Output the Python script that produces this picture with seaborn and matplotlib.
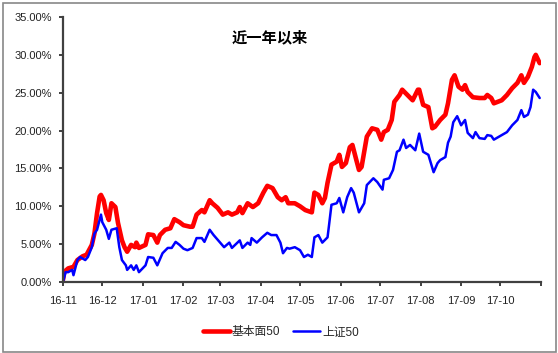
import pandas as pd
import matplotlib
matplotlib.use("Agg")
import matplotlib.pyplot as plt
import seaborn as sns

# 基本面50 (%)
red_dates = ["2016-11-01", "2016-11-02", "2016-11-03", "2016-11-05", "2016-11-09", "2016-11-12",
             "2016-11-16", "2016-11-19", "2016-11-23", "2016-11-25", "2016-11-27", "2016-11-29",
             "2016-11-30", "2016-12-02", "2016-12-04", "2016-12-06", "2016-12-08", "2016-12-11",
             "2016-12-13", "2016-12-16", "2016-12-18", "2016-12-20", "2016-12-23", "2016-12-26",
             "2016-12-27", "2016-12-29", "2017-01-03", "2017-01-05", "2017-01-09", "2017-01-12",
             "2017-01-14", "2017-01-18", "2017-01-22", "2017-01-25", "2017-01-29", "2017-02-01",
             "2017-02-06", "2017-02-08", "2017-02-11", "2017-02-15", "2017-02-17", "2017-02-21",
             "2017-02-23", "2017-02-27", "2017-03-03", "2017-03-07", "2017-03-10", "2017-03-14",
             "2017-03-16", "2017-03-18", "2017-03-22", "2017-03-26", "2017-03-30", "2017-04-03",
             "2017-04-06", "2017-04-10", "2017-04-14", "2017-04-17", "2017-04-20", "2017-04-22",
             "2017-04-27", "2017-05-01", "2017-05-05", "2017-05-10", "2017-05-12", "2017-05-15",
             "2017-05-18", "2017-05-20", "2017-05-22", "2017-05-25", "2017-05-29", "2017-05-31",
             "2017-06-02", "2017-06-05", "2017-06-08", "2017-06-10", "2017-06-13", "2017-06-15",
             "2017-06-17", "2017-06-21", "2017-06-25", "2017-06-29", "2017-07-02", "2017-07-04",
             "2017-07-07", "2017-07-10", "2017-07-12", "2017-07-16", "2017-07-18", "2017-07-22",
             "2017-07-26", "2017-07-30", "2017-07-31", "2017-08-03", "2017-08-07", "2017-08-10",
             "2017-08-12", "2017-08-16", "2017-08-20", "2017-08-22", "2017-08-25", "2017-08-27",
             "2017-08-30", "2017-09-02", "2017-09-04", "2017-09-06", "2017-09-10", "2017-09-15",
             "2017-09-19", "2017-09-21", "2017-09-24", "2017-09-26", "2017-10-02", "2017-10-06",
             "2017-10-10", "2017-10-14", "2017-10-17", "2017-10-19", "2017-10-22", "2017-10-25",
             "2017-10-27", "2017-10-28", "2017-10-31"]
red_values = [0.3, 1.4, 1.5, 1.8, 2.0, 2.9,
              3.4, 3.6, 4.9, 6.4, 9.1, 11.3,
              11.5, 10.8, 9.1, 8.2, 10.4, 9.9,
              7.8, 5.5, 4.6, 4.0, 4.9, 4.6,
              5.2, 4.5, 4.9, 6.3, 6.2, 5.2,
              6.2, 6.9, 7.1, 8.3, 7.9, 7.5,
              7.3, 7.3, 8.9, 9.5, 9.2, 10.8,
              10.4, 9.8, 8.9, 9.2, 8.9, 9.2,
              9.9, 9.1, 10.4, 9.9, 10.4, 11.8,
              12.7, 12.4, 11.2, 10.8, 11.2, 10.4,
              10.4, 10.0, 9.5, 9.2, 11.8, 11.5,
              10.4, 11.1, 13.1, 15.5, 15.9, 16.8,
              15.2, 15.7, 17.8, 18.1, 16.1, 14.8,
              15.2, 19.2, 20.3, 20.1, 18.8, 19.8,
              20.1, 21.4, 23.8, 24.7, 25.4, 24.7,
              24.0, 25.4, 25.4, 23.4, 23.1, 20.3,
              20.5, 21.4, 22.1, 23.6, 26.7, 27.3,
              25.8, 25.4, 26.0, 25.1, 24.4, 24.3,
              24.3, 24.7, 24.3, 23.6, 24.0, 24.7,
              25.6, 26.3, 27.3, 26.3, 27.1, 28.4,
              29.7, 30.0, 28.9]

# 上证50 (%)
blue_dates = ["2016-11-01", "2016-11-03", "2016-11-05", "2016-11-08", "2016-11-09", "2016-11-12",
              "2016-11-14", "2016-11-18", "2016-11-20", "2016-11-23", "2016-11-25", "2016-11-27",
              "2016-11-30", "2016-12-01", "2016-12-04", "2016-12-06", "2016-12-08", "2016-12-12",
              "2016-12-14", "2016-12-16", "2016-12-19", "2016-12-20", "2016-12-23", "2016-12-25",
              "2016-12-27", "2016-12-29", "2017-01-03", "2017-01-05", "2017-01-09", "2017-01-12",
              "2017-01-16", "2017-01-20", "2017-01-23", "2017-01-26", "2017-01-29", "2017-02-01",
              "2017-02-04", "2017-02-08", "2017-02-11", "2017-02-15", "2017-02-17", "2017-02-21",
              "2017-02-24", "2017-03-01", "2017-03-04", "2017-03-08", "2017-03-10", "2017-03-16",
              "2017-03-18", "2017-03-22", "2017-03-24", "2017-03-25", "2017-03-29", "2017-04-02",
              "2017-04-06", "2017-04-09", "2017-04-13", "2017-04-16", "2017-04-18", "2017-04-21",
              "2017-04-23", "2017-04-27", "2017-05-01", "2017-05-04", "2017-05-07", "2017-05-10",
              "2017-05-12", "2017-05-15", "2017-05-18", "2017-05-22", "2017-05-23", "2017-05-25",
              "2017-05-29", "2017-05-31", "2017-06-03", "2017-06-06", "2017-06-09", "2017-06-11",
              "2017-06-15", "2017-06-19", "2017-06-21", "2017-06-26", "2017-06-29", "2017-07-03",
              "2017-07-04", "2017-07-08", "2017-07-11", "2017-07-14", "2017-07-16", "2017-07-19",
              "2017-07-21", "2017-07-24", "2017-07-28", "2017-07-31", "2017-08-03", "2017-08-07",
              "2017-08-11", "2017-08-14", "2017-08-16", "2017-08-20", "2017-08-22", "2017-08-24",
              "2017-08-26", "2017-08-29", "2017-09-01", "2017-09-04", "2017-09-06", "2017-09-10",
              "2017-09-12", "2017-09-15", "2017-09-19", "2017-09-21", "2017-09-24", "2017-09-26",
              "2017-09-30", "2017-10-06", "2017-10-10", "2017-10-14", "2017-10-17", "2017-10-19",
              "2017-10-22", "2017-10-24", "2017-10-26", "2017-10-28", "2017-10-31"]
blue_values = [0.0, 1.3, 1.3, 1.6, 0.9, 2.9,
               3.3, 2.9, 3.3, 4.6, 6.4, 6.9,
               8.9, 7.9, 6.9, 5.7, 6.9, 7.1,
               4.6, 2.9, 2.2, 1.6, 2.2, 1.6,
               2.2, 1.3, 2.2, 3.3, 3.2, 2.2,
               3.8, 4.5, 4.5, 5.3, 4.9, 4.4,
               4.2, 4.5, 5.8, 5.8, 5.3, 6.9,
               6.2, 5.2, 4.6, 5.2, 4.5, 5.5,
               4.5, 5.2, 4.9, 5.8, 5.2, 5.9,
               6.5, 6.2, 6.2, 5.2, 3.8, 4.5,
               4.4, 4.6, 4.2, 3.3, 3.6, 3.3,
               5.9, 6.2, 5.2, 5.9, 7.3, 10.2,
               10.4, 11.1, 9.2, 11.2, 12.4, 11.8,
               9.2, 10.4, 12.8, 13.7, 13.2, 12.2,
               13.5, 13.7, 14.8, 17.2, 17.4, 18.8,
               17.7, 18.1, 17.4, 19.6, 17.2, 16.8,
               14.5, 15.7, 16.1, 16.5, 18.4, 19.2,
               21.1, 21.9, 20.7, 21.4, 19.7, 19.0,
               19.8, 19.0, 18.9, 19.4, 19.3, 18.8,
               19.2, 19.8, 20.7, 21.4, 22.7, 21.8,
               22.1, 23.1, 25.4, 25.1, 24.3]

series_names = ["基本面50", "上证50"]
series_colors = {"基本面50": "#FF0000", "上证50": "#0000FF"}
series_widths = {"基本面50": 3.3, "上证50": 1.8}

month_labels = ["16-11", "16-12", "17-01", "17-02", "17-03", "17-04", "17-05",
                "17-06", "17-07", "17-08", "17-09", "17-10", ""]
y_ticks = [0, 5, 10, 15, 20, 25, 30, 35]

df = pd.concat([
    pd.DataFrame({"date": pd.to_datetime(red_dates), "value": red_values, "series": series_names[0]}),
    pd.DataFrame({"date": pd.to_datetime(blue_dates), "value": blue_values, "series": series_names[1]}),
], ignore_index=True)

sns.set_theme(style="white")
plt.rcParams["font.family"] = ["Liberation Sans", "Noto Sans CJK SC", "DejaVu Sans"]

fig = plt.figure(figsize=(5.58, 3.53), dpi=100)
ax = fig.add_axes([63 / 558, 1 - 282 / 353, (541 - 63) / 558, (282 - 17) / 353])

sns.lineplot(data=df, x="date", y="value", hue="series", size="series",
             palette=series_colors, sizes=series_widths, hue_order=series_names,
             size_order=series_names, legend=False, ax=ax, solid_capstyle="round")

# 軸
month_ticks = pd.date_range("2016-11-01", "2017-11-01", freq="MS")
ax.set_xlim(month_ticks[0], month_ticks[-1])
ax.set_xticks(month_ticks)
ax.set_xticklabels(month_labels)
ax.set_ylim(0, 35)
ax.set_yticks(y_ticks)
ax.set_yticklabels([f"{v:.2f}%" for v in y_ticks])
ax.set_xlabel("")
ax.set_ylabel("")
for side in ["top", "right"]:
    ax.spines[side].set_visible(False)
for side in ["left", "bottom"]:
    ax.spines[side].set_color("#404040")
    ax.spines[side].set_linewidth(1.6)
ax.tick_params(axis="both", which="major", direction="out", length=3, width=1.4,
               color="#404040", labelsize=8, labelcolor="#222222")
ax.tick_params(axis="x", pad=7)
ax.tick_params(axis="y", pad=5)
ax.tick_params(axis="x", left=False, bottom=True)
ax.tick_params(axis="y", left=True)
ax.grid(False)

# タイトル
fig.text(270 / 558, 1 - 37 / 353, "近一年以来", ha="center", va="center",
         fontsize=11, fontweight="bold", color="black",
         family=["Noto Sans CJK SC", "DejaVu Sans"])

# 凡例
handles = ax.get_lines()[:2]
fig.legend(handles, series_names, loc="center", bbox_to_anchor=(0.503, 1 - 332 / 353),
           ncol=2, frameon=False, fontsize=8.5, handlelength=2.3, handletextpad=0.15,
           columnspacing=1.1)

# 外枠
fig.add_artist(plt.Rectangle((2.5 / 558, 1.5 / 353), 553 / 558, 349 / 353,
                             transform=fig.transFigure, fill=False, edgecolor="#888888",
                             linewidth=1.2))

fig.savefig("out.png", dpi=100)
